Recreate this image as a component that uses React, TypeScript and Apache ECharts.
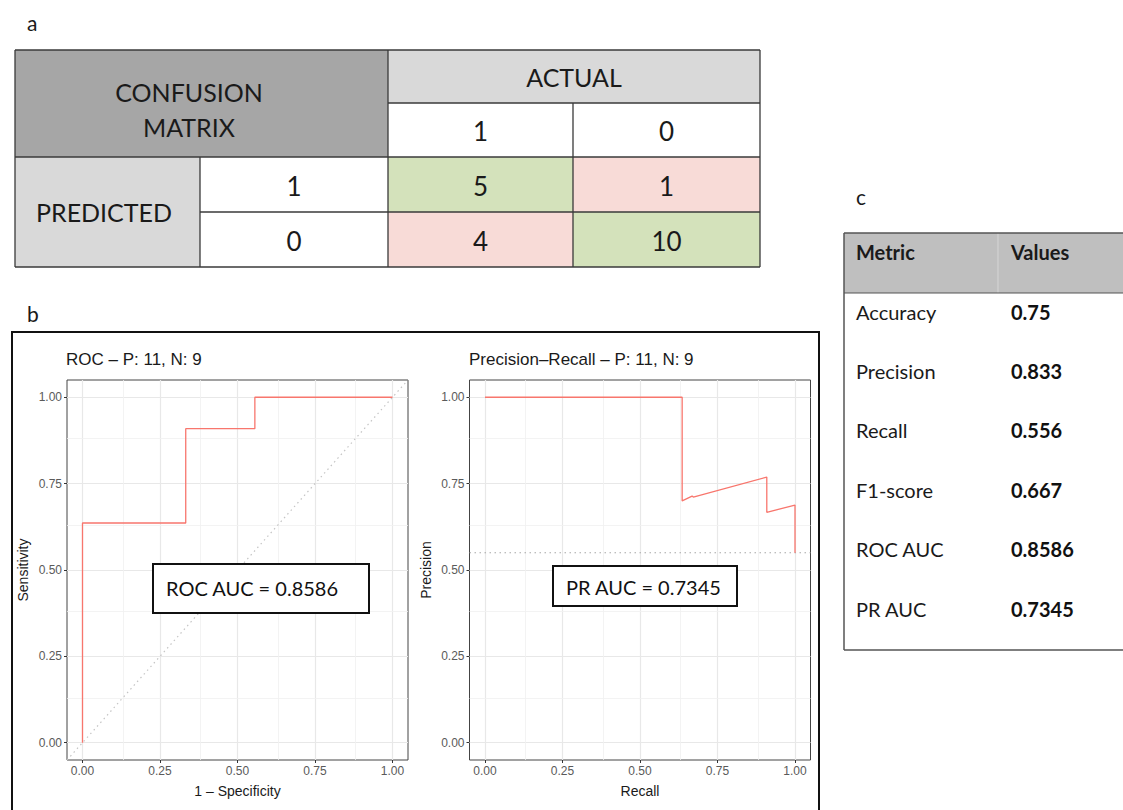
import React, { useEffect, useRef } from "react";
import * as echarts from "echarts";

// ---------- data ----------
const actualLabels = ["1", "0"];
const predictedLabels = ["1", "0"];
const confusion = [
  [5, 1],
  [4, 10],
];
const metricNames = ["Accuracy", "Precision", "Recall", "F1-score", "ROC AUC", "PR AUC"];
const metricValues = ["0.75", "0.833", "0.556", "0.667", "0.8586", "0.7345"];

const rocFpr = [0, 0, 0.333, 0.333, 0.556, 0.556, 1];
const rocTpr = [0, 0.636, 0.636, 0.909, 0.909, 1, 1];

const prRecall = [0, 0.636, 0.636, 0.668, 0.672, 0.909, 0.909, 1, 1];
const prPrecision = [1, 1, 0.7, 0.714, 0.711, 0.769, 0.667, 0.688, 0.55];

const majorTicks = [0, 0.25, 0.5, 0.75, 1];
const minorTicks = [0.125, 0.375, 0.625, 0.875];
const diagonal = [
  [-0.05, -0.05],
  [1.05, 1.05],
];
const prBaseline = 0.55;
const rocTitle = "ROC – P: 11, N: 9";
const prTitle = "Precision–Recall – P: 11, N: 9";
const rocAucText = "ROC AUC = 0.8586";
const prAucText = "PR AUC = 0.7345";

// ---------- styles ----------
const GG = "Liberation Sans, Arial, sans-serif";
const CAL = "Lato, 'Open Sans', sans-serif";
const RED = "#f8766d";

function gridMarkLine() {
  const data: any[] = [];
  majorTicks.forEach((v) => {
    data.push({ xAxis: v, lineStyle: { color: "#e8e8e8", width: 1.2, type: "solid" } });
    data.push({ yAxis: v, lineStyle: { color: "#e8e8e8", width: 1.2, type: "solid" } });
  });
  minorTicks.forEach((v) => {
    data.push({ xAxis: v, lineStyle: { color: "#f0f0f0", width: 0.8, type: "solid" } });
    data.push({ yAxis: v, lineStyle: { color: "#f0f0f0", width: 0.8, type: "solid" } });
  });
  return {
    silent: true,
    symbol: ["none", "none"],
    label: { show: false },
    emphasis: { disabled: true },
    z: 1,
    data,
  };
}

const tickLabelStyle = {
  customValues: majorTicks,
  formatter: (v: number) => v.toFixed(2),
  color: "#5a5a5a",
  fontSize: 12,
  fontFamily: GG,
  margin: 5,
};

function makeXAxis(gridIndex: number, name: string) {
  return {
    gridIndex,
    type: "value",
    min: -0.05,
    max: 1.05,
    axisLine: { show: false, onZero: false },
    axisTick: { show: true, length: 3, lineStyle: { color: "#333" }, customValues: majorTicks },
    axisLabel: tickLabelStyle,
    splitLine: { show: false },
    name,
    nameLocation: "middle",
    nameGap: 24,
    nameTextStyle: { fontFamily: GG, fontSize: 14, color: "#1a1a1a" },
  };
}

function makeYAxis(gridIndex: number, name: string) {
  return {
    gridIndex,
    type: "value",
    min: -0.05,
    max: 1.05,
    axisLine: { show: false, onZero: false },
    axisTick: { show: true, length: 3, lineStyle: { color: "#333" }, customValues: majorTicks },
    axisLabel: tickLabelStyle,
    splitLine: { show: false },
    name,
    nameLocation: "middle",
    nameGap: 37,
    nameTextStyle: { fontFamily: GG, fontSize: 14, color: "#1a1a1a" },
  };
}

function buildGraphic() {
  const els: any[] = [];
  const colX = [15, 200, 388, 573, 760];
  const rowY = [50, 103, 157, 212, 267];
  const rect = (x0: number, y0: number, x1: number, y1: number, fill: string) =>
    els.push({ type: "rect", shape: { x: x0, y: y0, width: x1 - x0, height: y1 - y0 }, style: { fill }, z: 10 });
  const txt = (x: number, y: number, text: string, size: number, extra: any = {}) =>
    els.push({
      type: "text",
      x,
      y,
      z: 30,
      style: {
        text,
        font: `${extra.weight || "normal"} ${size}px ${CAL}`,
        fill: extra.fill || "#1a1a1a",
        align: extra.align || "center",
        verticalAlign: "middle",
      },
    });
  const line = (x1: number, y1: number, x2: number, y2: number, stroke = "#3a3a3a", w = 1.3) =>
    els.push({ type: "line", shape: { x1, y1, x2, y2 }, style: { stroke, lineWidth: w }, z: 20 });

  // panel labels
  txt(27, 22, "a", 21, { align: "left" });
  txt(27, 313, "b", 21, { align: "left" });
  txt(856, 196, "c", 21, { align: "left" });

  // confusion matrix
  const GREEN = "#d4e2bb";
  const PINK = "#f8dbd7";
  rect(colX[0], rowY[0], colX[2], rowY[2], "#a6a6a6");
  rect(colX[2], rowY[0], colX[4], rowY[1], "#d9d9d9");
  rect(colX[2], rowY[1], colX[4], rowY[2], "#ffffff");
  rect(colX[0], rowY[2], colX[1], rowY[4], "#d9d9d9");
  rect(colX[1], rowY[2], colX[2], rowY[4], "#ffffff");
  for (let r = 0; r < 2; r++) {
    for (let c = 0; c < 2; c++) {
      rect(colX[2 + c], rowY[2 + r], colX[3 + c], rowY[3 + r], r === c ? GREEN : PINK);
      txt((colX[2 + c] + colX[3 + c]) / 2, (rowY[2 + r] + rowY[3 + r]) / 2 + 1, String(confusion[r][c]), 26);
    }
  }
  txt(189, 92, "CONFUSION", 25);
  txt(189, 127, "MATRIX", 25);
  txt((colX[2] + colX[4]) / 2, (rowY[0] + rowY[1]) / 2, "ACTUAL", 25);
  actualLabels.forEach((l, i) => txt((colX[2 + i] + colX[3 + i]) / 2, (rowY[1] + rowY[2]) / 2 + 1, l, 26));
  predictedLabels.forEach((l, i) => txt((colX[1] + colX[2]) / 2, (rowY[2 + i] + rowY[3 + i]) / 2 + 1, l, 26));
  txt(104, (rowY[2] + rowY[4]) / 2, "PREDICTED", 25);

  line(colX[0], rowY[0], colX[4], rowY[0]);
  line(colX[2], rowY[1], colX[4], rowY[1]);
  line(colX[0], rowY[2], colX[4], rowY[2]);
  line(colX[1], rowY[3], colX[4], rowY[3]);
  line(colX[0], rowY[4], colX[4], rowY[4]);
  line(colX[0], rowY[0], colX[0], rowY[4]);
  line(colX[1], rowY[2], colX[1], rowY[4]);
  line(colX[2], rowY[0], colX[2], rowY[4]);
  line(colX[3], rowY[1], colX[3], rowY[4]);
  line(colX[4], rowY[0], colX[4], rowY[4]);

  // panel b frame
  els.push({
    type: "rect",
    shape: { x: 12, y: 332, width: 807, height: 500 },
    style: { fill: "none", stroke: "#111", lineWidth: 2 },
    z: 40,
  });

  // AUC boxes
  els.push({
    type: "rect",
    shape: { x: 153, y: 564, width: 216, height: 49 },
    style: { fill: "#fff", stroke: "#111", lineWidth: 2 },
    z: 50,
  });
  els.push({
    type: "text", x: 166, y: 588, z: 51,
    style: { text: rocAucText, font: `20px ${CAL}`, fill: "#111", align: "left", verticalAlign: "middle" },
  });
  els.push({
    type: "rect",
    shape: { x: 553, y: 566, width: 184, height: 40 },
    style: { fill: "#fff", stroke: "#111", lineWidth: 2 },
    z: 50,
  });
  els.push({
    type: "text", x: 566, y: 587, z: 51,
    style: { text: prAucText, font: `20px ${CAL}`, fill: "#111", align: "left", verticalAlign: "middle" },
  });

  // metrics table
  const tx0 = 844, tx1 = 1123, ty0 = 233, tyH = 293, ty1 = 650;
  rect(tx0, ty0, tx1, tyH, "#bfbfbf");
  line(998, ty0, 998, tyH, "#d6d6d6", 1);
  line(tx0, ty0, tx1, ty0, "#555", 1.5);
  line(tx0, tyH, tx1, tyH, "#555", 1.2);
  line(tx0, ty1, tx1, ty1, "#555", 1.5);
  line(tx0, ty0, tx0, ty1, "#555", 1.5);
  txt(856, 252, "Metric", 20, { align: "left", weight: "bold" });
  txt(1011, 252, "Values", 20, { align: "left", weight: "bold" });
  metricNames.forEach((m, i) => {
    const y = 311.5 + i * 59.4;
    txt(856, y, m, 20, { align: "left" });
    txt(1011, y, metricValues[i], 20, { align: "left", weight: "bold", fill: "#111" });
  });
  return els;
}

export default function App() {
  const ref = useRef<HTMLDivElement>(null);
  useEffect(() => {
    if (!ref.current) return;
    const chart = echarts.init(ref.current, null, { renderer: "svg" });
    const titleStyle = { fontFamily: GG, fontSize: 17, fontWeight: "normal", color: "#1a1a1a" };
    const option: any = {
      animation: false,
      backgroundColor: "#ffffff",
      title: [
        { text: rocTitle, left: 66, top: 351, padding: 0, textStyle: titleStyle },
        { text: prTitle, left: 469, top: 351, padding: 0, textStyle: titleStyle },
      ],
      grid: [
        { left: 67, top: 380, width: 341, height: 380, show: true, borderColor: "#444", borderWidth: 1, backgroundColor: "#fff" },
        { left: 469.5, top: 380, width: 341, height: 380, show: true, borderColor: "#444", borderWidth: 1, backgroundColor: "#fff" },
      ],
      xAxis: [makeXAxis(0, "1 – Specificity"), makeXAxis(1, "Recall")],
      yAxis: [makeYAxis(0, "Sensitivity"), makeYAxis(1, "Precision")],
      series: [
        {
          type: "line", xAxisIndex: 0, yAxisIndex: 0, z: 2, silent: true,
          data: diagonal, showSymbol: false, symbol: "none",
          lineStyle: { color: "#c4c4c4", width: 1.2, type: [1.5, 3.5] },
          markLine: gridMarkLine(),
        },
        {
          type: "line", xAxisIndex: 0, yAxisIndex: 0, z: 3, silent: true,
          data: rocFpr.map((x, i) => [x, rocTpr[i]]), showSymbol: false, symbol: "none",
          lineStyle: { color: RED, width: 1.3 },
        },
        {
          type: "line", xAxisIndex: 1, yAxisIndex: 1, z: 2, silent: true,
          data: [[-0.05, prBaseline], [1.05, prBaseline]], showSymbol: false, symbol: "none",
          lineStyle: { color: "#a8a8a8", width: 1.2, type: [1.5, 3.5] },
          markLine: gridMarkLine(),
        },
        {
          type: "line", xAxisIndex: 1, yAxisIndex: 1, z: 3, silent: true,
          data: prRecall.map((x, i) => [x, prPrecision[i]]), showSymbol: false, symbol: "none",
          lineStyle: { color: RED, width: 1.3 },
        },
      ],
      graphic: buildGraphic(),
    };
    chart.setOption(option);
    return () => chart.dispose();
  }, []);
  return (
    <div
      ref={ref}
      style={{ position: "absolute", left: 0, top: 0, width: 1123, height: 810 }}
    />
  );
}
